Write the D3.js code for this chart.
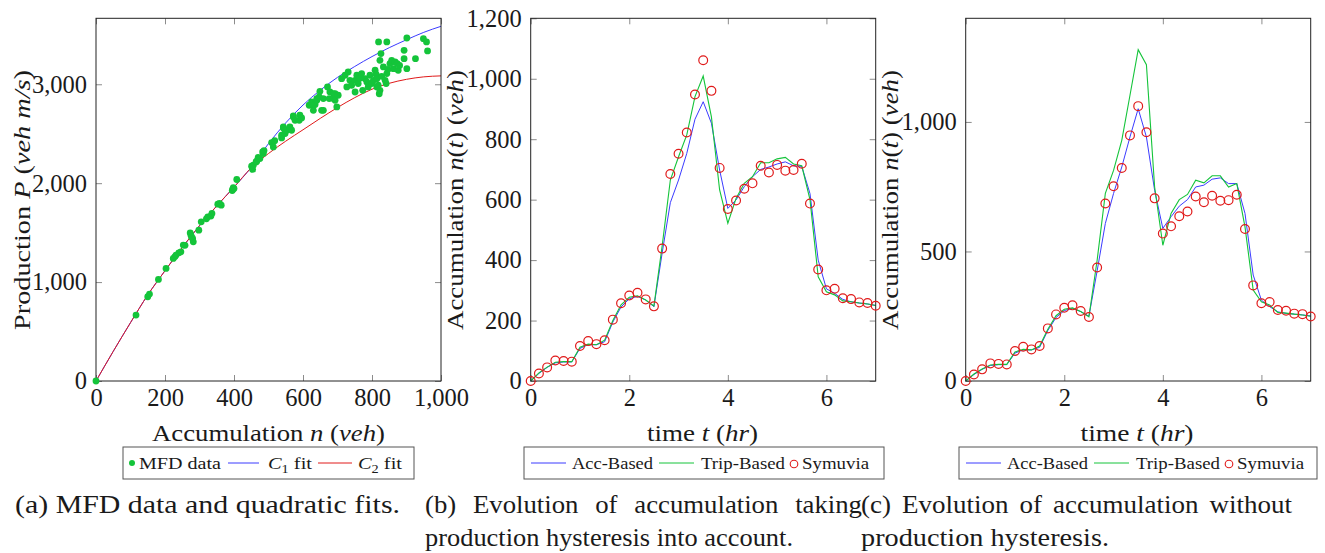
<!DOCTYPE html>
<html lang="en">
<head>
<meta charset="UTF-8">
<title>MFD and accumulation</title>
<style>
  body { margin: 0; background: #fff; }
  svg text { font-family: "Liberation Serif", "Times New Roman", serif; fill: #1a1a1a; }
</style>
</head>
<body>
<script src="https://d3js.org/d3.v7.min.js"></script>
<script>
// ---- data ----
// (a) MFD scatter: accumulation n (veh) / production P (veh m/s)
const mfdAccum = [0,116,150,155,181,203,224,229,232,240,246,253,258,273,275,280,282,277,298,305,320,324,333,336,353,358,363,395,396,398,400,408,
  451,454,456,464,466,470,475,483,485,487,509,514,518,538,538,543,543,548,548,553,562,562,567,572,572,577,589,591,596,
  618,625,630,630,635,640,640,647,649,654,659,659,671,676,678,688,688,693,693,698,702,712,722,727,731,736,741,751,751,756,760,765,
  770,773,780,785,789,794,799,804,809,812,814,814,818,819,821,823,823,826,828,833,838,841,843,843,846,852,857,862,867,873,876,880,
  893,893,901,901,926,949,958,961];
const mfdProd = [0,667,852,879,1027,1138,1239,1258,1273,1296,1306,1374,1372,1498,1475,1441,1407,1455,1525,1609,1640,1660,1667,1694,1788,1796,1778,1925,1936,1956,1945,2037,
  2172,2139,2182,2215,2222,2260,2249,2316,2300,2330,2411,2367,2430,2458,2485,2559,2569,2502,2535,2535,2569,2552,2535,2680,2670,2636,2636,2687,2660,
  2788,2822,2788,2737,2795,2855,2838,2872,2929,2737,2737,2855,2973,2855,2923,2906,2855,2838,2906,2771,2889,3057,3091,2973,3125,3040,2990,3040,2922,3091,3007,3060,
  3108,2939,3057,3024,2973,3091,3007,3040,3142,3100,3057,2973,2990,3428,2904,2939,3242,3310,3080,3175,3040,3007,3108,3428,3150,3209,3242,3158,3226,3209,3142,3190,
  3343,3259,3158,3468,3259,3461,3428,3337];
// fitted curves, sampled every 50 veh
const fitAccum = [0,50,100,150,200,250,300,350,400,450,500,550,600,650,700,750,800,850,900,950,1000];
const fitC1 = [0,300,590,870,1115,1350,1570,1770,1960,2160,2400,2610,2790,2940,3070,3180,3280,3370,3450,3525,3586];
const fitC2 = [0,300,590,870,1115,1350,1570,1770,1960,2155,2300,2425,2540,2655,2765,2865,2950,3010,3050,3075,3085];

// (b), (c) time in hours (every 10 minutes)
const timeHr = [0,0.1667,0.3333,0.5,0.6667,0.8333,1,1.1667,1.3333,1.5,1.6667,1.8333,2,2.1667,2.3333,2.5,2.6667,2.8333,3,3.1667,3.3333,3.5,
  3.6667,3.8333,4,4.1667,4.3333,4.5,4.6667,4.8333,5,5.1667,5.3333,5.5,5.6667,5.8333,6,6.1667,6.3333,6.5,6.6667,6.8333,7];
const symuvia = [0,25,45,68,66,64,116,132,122,135,203,257,283,292,270,247,438,685,752,822,948,1061,
  960,705,569,597,636,654,712,690,715,696,698,719,587,369,300,305,274,271,260,258,249];
const accBasedB = [0,25,45,60,63,63,108,120,120,130,195,245,272,280,268,246,423,590,665,753,866,924,
  853,698,571,599,643,676,700,708,718,725,712,710,620,400,305,290,270,262,258,255,250];
const tripBasedB = [0,27,46,62,64,64,112,122,120,135,200,252,277,282,268,248,446,665,742,814,941,1009,
  874,632,522,604,654,676,722,722,735,740,718,712,600,345,295,285,265,262,258,255,250];
const accBasedC = [0,25,45,60,63,63,108,120,120,130,195,245,272,280,268,250,425,608,724,826,942,1051,
  942,736,589,634,675,700,749,756,779,784,762,762,647,409,312,287,267,261,258,255,251];
const tripBasedC = [0,27,46,62,64,64,112,122,120,135,200,252,277,282,268,248,466,724,813,929,1103,1279,
  1221,749,524,647,700,720,775,765,792,792,749,762,595,351,306,293,265,262,258,255,250];

const ticksA_x = [0,200,400,600,800,1000], ticksA_y = [0,1000,2000,3000];
const ticksT_x = [0,2,4,6], ticksB_y = [0,200,400,600,800,1000,1200], ticksC_y = [0,500,1000];

// ---- colours ----
const BLUE = '#3b3bff', RED = '#e01a1a', GREEN = '#14c43a';

const W = 1325, H = 553;
const svg = d3.select('body').append('svg').attr('width', W).attr('height', H);
const fmt = d3.format(',');
const TOP = 18.3, BOT = 381, PW = 345;

// text with italic / subscript parts; len stretches it to the width of the original (CM is wider than Times)
function rich(parent, x, y, parts, size, anchor, rotate, len) {
  const t = parent.append('text').attr('font-size', size).attr('text-anchor', anchor || 'start');
  if (rotate) t.attr('transform', `translate(${x},${y}) rotate(-90)`);
  else t.attr('x', x).attr('y', y);
  parts.forEach(p => {
    const s = t.append('tspan').text(p[0]);
    if (p[1] === 'i') s.attr('font-style', 'italic');
    if (p[1] === 'sub') s.attr('font-size', size * 0.7).attr('dy', size * 0.22);
    if (p[1] === 'back') s.attr('dy', -size * 0.22);
  });
  if (len) t.attr('textLength', len).attr('lengthAdjust', 'spacingAndGlyphs');
  return t;
}

function makePanel(left, xDom, yDom, xt, yt) {
  const x = d3.scaleLinear().domain(xDom).range([left, left + PW]);
  const y = d3.scaleLinear().domain(yDom).range([BOT, TOP]);
  const g = svg.append('g');
  const axes = [
    g.append('g').attr('transform', `translate(0,${BOT})`)
      .call(d3.axisBottom(x).tickValues(xt).tickFormat(fmt).tickSize(-6).tickPadding(8)),
    g.append('g').attr('transform', `translate(0,${TOP})`)
      .call(d3.axisTop(x).tickValues(xt).tickFormat('').tickSize(-6)),
    g.append('g').attr('transform', `translate(${left},0)`)
      .call(d3.axisLeft(y).tickValues(yt).tickFormat(fmt).tickSize(-6).tickPadding(9)),
    g.append('g').attr('transform', `translate(${left + PW},0)`)
      .call(d3.axisRight(y).tickValues(yt).tickFormat('').tickSize(-6))
  ];
  axes.forEach(a => {
    a.select('.domain').remove();
    a.selectAll('line').attr('stroke', '#8c8c8c');
    a.selectAll('text').attr('font-size', 24.5).attr('font-family', null).style('fill', '#1a1a1a');
  });
  const plot = g.append('g');
  g.append('rect').attr('x', left).attr('y', TOP).attr('width', PW).attr('height', BOT - TOP)
    .attr('fill', 'none').attr('stroke', '#222').attr('stroke-width', 1);
  const top = g.append('g');
  return { x, y, plot, top };
}

// ---------- (a) ----------
const pa = makePanel(96, [0, 1000], [0, 3667], ticksA_x, ticksA_y);
const fitLine = vals => d3.line().x((d, i) => pa.x(fitAccum[i])).y(d => pa.y(d)).curve(d3.curveMonotoneX)(vals);
pa.plot.append('path').attr('d', fitLine(fitC1)).attr('fill', 'none').attr('stroke', BLUE).attr('stroke-width', 1);
pa.plot.append('path').attr('d', fitLine(fitC2)).attr('fill', 'none').attr('stroke', RED).attr('stroke-width', 1);
pa.top.selectAll('circle').data(mfdAccum).join('circle')
  .attr('cx', d => pa.x(d)).attr('cy', (d, i) => pa.y(mfdProd[i])).attr('r', 3.4).attr('fill', GREEN);

// ---------- (b), (c) ----------
function timePanel(left, yDom, yt, acc, trip) {
  const p = makePanel(left, [0, 7], yDom, ticksT_x, yt);
  const line = d3.line().x((d, i) => p.x(timeHr[i])).y(d => p.y(d));
  p.plot.append('path').attr('d', line(acc)).attr('fill', 'none').attr('stroke', BLUE).attr('stroke-width', 1);
  p.plot.append('path').attr('d', line(trip)).attr('fill', 'none').attr('stroke', GREEN).attr('stroke-width', 1.1);
  p.top.selectAll('circle').data(symuvia).join('circle')
    .attr('cx', (d, i) => p.x(timeHr[i])).attr('cy', d => p.y(d)).attr('r', 4.4)
    .attr('fill', 'none').attr('stroke', RED).attr('stroke-width', 1.2);
  return p;
}
timePanel(530.7, [0, 1200], ticksB_y, accBasedB, tripBasedB);
timePanel(965.7, [0, 1400], ticksC_y, accBasedC, tripBasedC);

// ---------- axis labels ----------
const labels = svg.append('g');
rich(labels, 268.5, 441, [['Accumulation '], ['n', 'i'], [' ('], ['veh', 'i'], [')']], 24, 'middle', false, 233);
rich(labels, 702.5, 441, [['time '], ['t', 'i'], [' ('], ['hr', 'i'], [')']], 24, 'middle', false, 111);
rich(labels, 1137, 441, [['time '], ['t', 'i'], [' ('], ['hr', 'i'], [')']], 24, 'middle', false, 113);
rich(labels, 30, 200, [['Production '], ['P', 'i'], [' ('], ['veh m/s', 'i'], [')']], 24, 'middle', true, 260);
rich(labels, 463, 200, [['Accumulation '], ['n', 'i'], ['('], ['t', 'i'], [') ('], ['veh', 'i'], [')']], 24, 'middle', true, 260);
rich(labels, 898, 200, [['Accumulation '], ['n', 'i'], ['('], ['t', 'i'], [') ('], ['veh', 'i'], [')']], 24, 'middle', true, 260);

// ---------- legends ----------
function legendBox(x0, x1) {
  svg.append('rect').attr('x', x0).attr('y', 447).attr('width', x1 - x0).attr('height', 32)
    .attr('fill', '#fff').attr('stroke', '#555').attr('stroke-width', 1);
}
const LY = 463, LT = 469, LS = 17;
function legLine(x0, x1, c) {
  svg.append('line').attr('x1', x0).attr('x2', x1).attr('y1', LY).attr('y2', LY).attr('stroke', c).attr('stroke-width', 1);
}
legendBox(123, 414);
svg.append('circle').attr('cx', 132).attr('cy', LY).attr('r', 3).attr('fill', GREEN);
rich(svg, 139, LT, [['MFD data']], LS, 'start', false, 82);
legLine(228, 259, BLUE);
rich(svg, 268, LT, [['C', 'i'], ['1', 'sub'], [' fit', 'back']], LS, 'start', false, 44);
legLine(318, 352, RED);
rich(svg, 358, LT, [['C', 'i'], ['2', 'sub'], [' fit', 'back']], LS, 'start', false, 44);

function timeLegend(x0, x1) {
  legendBox(x0, x1);
  legLine(x0 + 7, x0 + 42, BLUE);
  rich(svg, x0 + 48, LT, [['Acc-Based']], LS, 'start', false, 81);
  legLine(x0 + 135, x0 + 170, GREEN);
  rich(svg, x0 + 177, LT, [['Trip-Based']], LS, 'start', false, 84);
  svg.append('circle').attr('cx', x0 + 270).attr('cy', LY + 1).attr('r', 3.8)
    .attr('fill', 'none').attr('stroke', RED).attr('stroke-width', 1.1);
  rich(svg, x0 + 278, LT, [['Symuvia']], LS, 'start', false, 67);
}
timeLegend(524, 884);
timeLegend(959, 1317);

// ---------- captions ----------
// glyphs widened a little (CM is wider than Times); justified first lines get the rest as word gaps
const CS = 25;
function caption(x, y, str, target, stretch) {
  const t = svg.append('text').attr('x', x).attr('y', y).attr('font-size', CS).text(str);
  if (stretch) {
    const w = t.node().getComputedTextLength();
    const gaps = str.split(' ').length - 1;
    const s = (target / stretch - w) / gaps;
    if (s > 0) t.attr('word-spacing', s);
  }
  t.attr('textLength', target).attr('lengthAdjust', 'spacingAndGlyphs');
  return t;
}
caption(15, 513, '(a) MFD data and quadratic fits.', 385);
caption(425, 513, '(b) Evolution of accumulation taking', 437, 1.07);
caption(425, 546, 'production hysteresis into account.', 368);
caption(861, 513, '(c) Evolution of accumulation without', 431, 1.08);
caption(861, 546, 'production hysteresis.', 248);
</script>
</body>
</html>
